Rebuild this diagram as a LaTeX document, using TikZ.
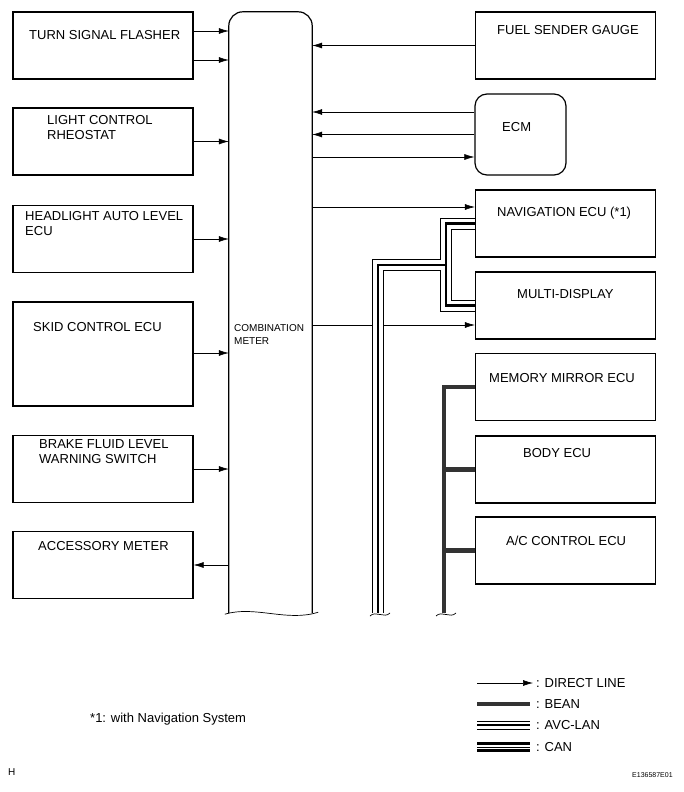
\documentclass[tikz,border=0pt]{standalone}
\usepackage{fontspec}
\setmainfont{Liberation Sans}
\usetikzlibrary{calc}
\usetikzlibrary{arrows.meta}

\tikzset{
 unit/.style={draw, line width=1.2pt, minimum width=180pt, minimum height=67pt, inner sep=0pt},
 lbl/.style={anchor=north west, inner sep=0pt, align=left, font=\fontsize{13}{15}\selectfont},
 dline/.style={line width=0.6pt, -{Latex[length=10pt,width=6pt]}},
 bean/.style={line width=4.2pt, black!80},
 brk/.style={line width=0.7pt},
}

\begin{document}
\begin{tikzpicture}[x=1pt, y=-1pt]
\useasboundingbox (0,0) rectangle (683,792);
% combination meter
\node[minimum width=83pt, minimum height=601pt, inner sep=0pt] (cm) at (270.5,312.5) {};
\draw[line width=1.2pt, rounded corners=14pt] (cm.south west) -- (cm.north west) -- (cm.north east) -- (cm.south east);
\draw[brk] ($(cm.south west)+(-4,1)$) .. controls ($(cm.south west)+(26,-8)$) and ($(cm.south east)+(-25,9)$) .. ($(cm.south east)+(6,-1)$);
\node[lbl, font=\fontsize{10}{13}\selectfont] at (234,324.4) {COMBINATION\\METER};

% left units
\node[unit] (tsf) at (103,45.5) {};
\node[unit] (lcr) at (103,141.5) {};
\node[unit] (hal) at (103,239) {};
\node[unit, minimum height=104pt] (skid) at (103,354) {};
\node[unit] (bfl) at (103,469) {};
\node[unit] (acc) at (103,565) {};
\node[lbl] at (29,30.3) {TURN SIGNAL FLASHER};
\node[lbl] at (47,115.3) {LIGHT CONTROL\\RHEOSTAT};
\node[lbl] at (25,211.3) {HEADLIGHT AUTO LEVEL\\ECU};
\node[lbl] at (33,322.3) {SKID CONTROL ECU};
\node[lbl] at (39,439.3) {BRAKE FLUID LEVEL\\WARNING SWITCH};
\node[lbl] at (38,541.3) {ACCESSORY METER};

% right units
\node[unit] (fsg) at (565.5,45.5) {};
\node[unit, minimum width=91pt, minimum height=81pt, rounded corners=12pt] (ecm) at (520.5,134.5) {};
\node[unit] (nav) at (565.5,223.5) {};
\node[unit] (mdp) at (565.5,305.5) {};
\node[unit] (mmr) at (565.5,387) {};
\node[unit] (body) at (565.5,469.5) {};
\node[unit] (ac) at (565.5,550.5) {};
\node[lbl] at (497,25.3) {FUEL SENDER GAUGE};
\node[lbl] at (502,122.3) {ECM};
\node[lbl] at (497,207.3) {NAVIGATION ECU (*1)};
\node[lbl] at (517,289.3) {MULTI-DISPLAY};
\node[lbl] at (489,373.3) {MEMORY MIRROR ECU};
\node[lbl] at (523,448.3) {BODY ECU};
\node[lbl] at (506,536.3) {A/C CONTROL ECU};

% direct lines
\foreach \n/\d in {tsf/-14.5, tsf/14.5, lcr/0, hal/0, skid/-1, bfl/0}
 \draw[dline] ($(\n.east)+(0,\d)$) -- ($(\n.east -| cm.west)+(0,\d)$);
\draw[dline] (acc.east -| cm.west) -- (acc.east);
\foreach \n/\d in {fsg/0, ecm/-22.5, ecm/0}
 \draw[dline] ($(\n.west)+(0,\d)$) -- ($(\n.west -| cm.east)+(0,\d)$);
\foreach \n/\d in {ecm/22.5, nav/-16.5, mdp/19.5}
 \draw[dline] ($(\n.west -| cm.east)+(0,\d)$) -- ($(\n.west)+(0,\d)$);

% AVC-LAN
\coordinate (avcend) at (378,613);
\foreach \w/\c in {12pt/black, 10pt/white, 2.6pt/black}
 \draw[line width=\w, \c] (nav.west) -| (446,305.5) -- (mdp.west) (446,265) -| (avcend);
\draw[brk] (370,616) .. controls (376,610) and (384,619) .. (390,613);

% BEAN
\coordinate (beanend) at (444,613);
\draw[bean] (mmr.west) -| (beanend);
\foreach \n in {body, ac}
 \draw[bean] (\n.west) -- (\n.west -| beanend);
\draw[brk] (436,616) .. controls (442,610) and (450,619) .. (456,613);

% legend
\node[lbl, anchor=west] (lgdir) at (536,683) {: DIRECT LINE};
\node[lbl, anchor=west] (lgbean) at (536,704) {: BEAN};
\node[lbl, anchor=west] (lgavc) at (536,725) {: AVC-LAN};
\node[lbl, anchor=west] (lgcan) at (536,747) {: CAN};
\draw[dline] ($(lgdir.west)+(-59,0)$) -- ($(lgdir.west)+(-3,0)$);
\draw[bean] ($(lgbean.west)+(-59,0)$) -- ($(lgbean.west)+(-6,0)$);
\foreach \d/\w in {-4/1pt, 0/2.6pt, 4/1pt}
 \draw[line width=\w] ($(lgavc.west)+(-59,\d)$) -- ($(lgavc.west)+(-6,\d)$);
\foreach \d/\w in {-3.5/2.2pt, 0/1pt, 3.5/2.2pt}
 \draw[line width=\w] ($(lgcan.west)+(-59,\d)$) -- ($(lgcan.west)+(-6,\d)$);

% notes
\node[lbl] at (90,713.3) {*1: with Navigation System};
\node[lbl, font=\fontsize{10}{12}\selectfont] at (8,768.4) {H};
\node[lbl, font=\fontsize{7}{8}\selectfont] at (632,772.5) {E136587E01};
\end{tikzpicture}
\end{document}
